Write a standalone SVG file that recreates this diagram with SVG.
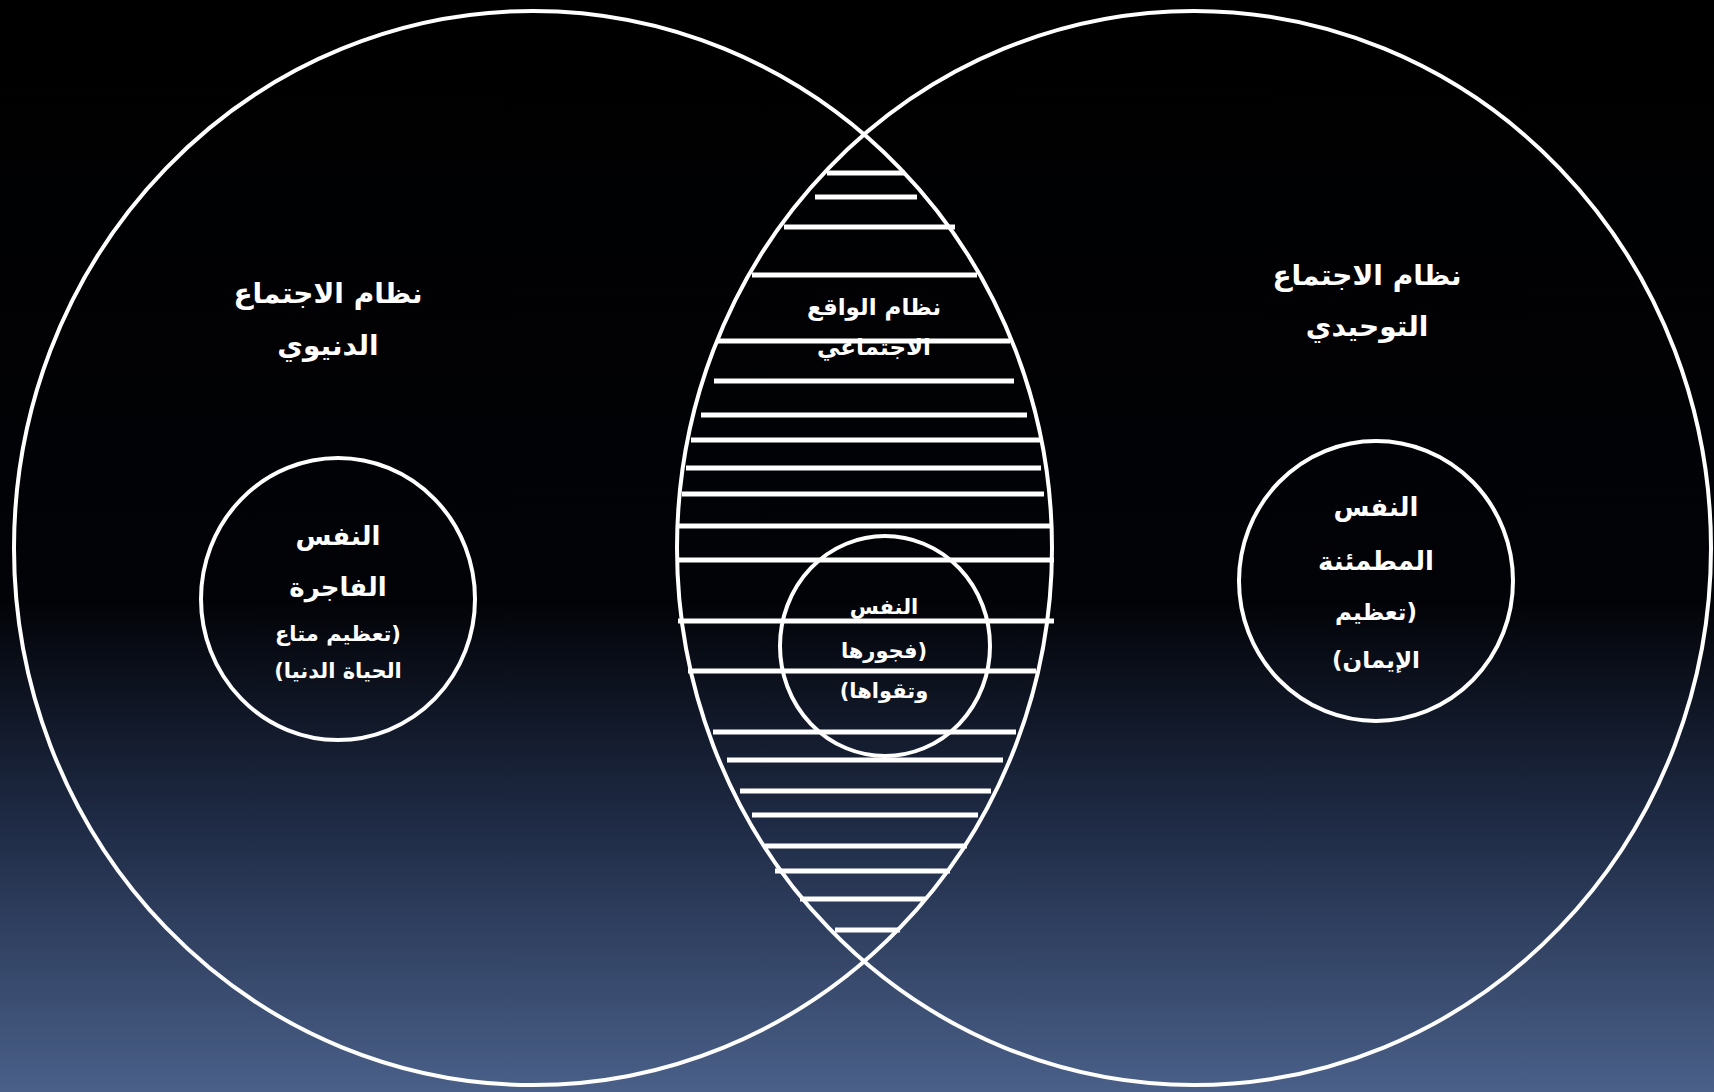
<svg xmlns="http://www.w3.org/2000/svg" width="1714" height="1092" viewBox="0 0 1714 1092">
<defs>
<linearGradient id="bg" x1="0" y1="0" x2="0" y2="1">
<stop offset="0" stop-color="#000000"/>
<stop offset="0.55" stop-color="#020307"/>
<stop offset="0.75" stop-color="#1e2a44"/>
<stop offset="1" stop-color="#4a6089"/>
</linearGradient>
<style>
.ring{fill:none;stroke:#ffffff;stroke-width:4}
.hatch line{stroke:#ffffff;stroke-width:5}
.t{fill:#ffffff;font-family:"DejaVu Sans","Liberation Sans",sans-serif;font-weight:bold;text-anchor:middle;direction:rtl}
.big{font-size:28px}
.lab{font-size:26px}
.mid{font-size:23px}
.sm{font-size:21px}
</style>
</defs>
<rect x="0" y="0" width="1714" height="1092" fill="url(#bg)"/>
<g id="left-system">
<ellipse class="ring" cx="533" cy="548" rx="519" ry="537"/>
<text class="t big" x="328" y="303">نظام الاجتماع</text>
<text class="t big" x="328" y="355">الدنيوي</text>
</g>
<g id="right-system">
<ellipse class="ring" cx="1194" cy="548" rx="517" ry="537"/>
<text class="t big" x="1367" y="285">نظام الاجتماع</text>
<text class="t big" x="1367" y="336">التوحيدي</text>
</g>
<g id="connectors" class="hatch">
<line x1="827" y1="173" x2="905" y2="173"/>
<line x1="815" y1="197" x2="917" y2="197"/>
<line x1="784" y1="227" x2="955" y2="227"/>
<line x1="752" y1="275" x2="977" y2="275"/>
<line x1="716" y1="341" x2="1010" y2="341"/>
<line x1="714" y1="381" x2="1014" y2="381"/>
<line x1="701" y1="415" x2="1027" y2="415"/>
<line x1="691" y1="440" x2="1041" y2="440"/>
<line x1="686" y1="468" x2="1041" y2="468"/>
<line x1="682" y1="494" x2="1044" y2="494"/>
<line x1="678" y1="526" x2="1052" y2="526"/>
<line x1="678" y1="560" x2="1054" y2="560"/>
<line x1="678" y1="621" x2="1054" y2="621"/>
<line x1="688" y1="671" x2="1036" y2="671"/>
<line x1="713" y1="732" x2="1016" y2="732"/>
<line x1="727" y1="760" x2="1003" y2="760"/>
<line x1="740" y1="791" x2="991" y2="791"/>
<line x1="752" y1="815" x2="978" y2="815"/>
<line x1="765" y1="846" x2="967" y2="846"/>
<line x1="775" y1="871" x2="950" y2="871"/>
<line x1="800" y1="899" x2="925" y2="899"/>
<line x1="835" y1="930" x2="900" y2="930"/>
</g>
<g id="social-reality">
<text class="t mid" x="874" y="315">نظام الواقع</text>
<text class="t mid" x="874" y="355">الاجتماعي</text>
</g>
<g id="nafs-fajira">
<ellipse class="ring" cx="338" cy="599" rx="137" ry="141"/>
<text class="t lab" x="338" y="545">النفس</text>
<text class="t lab" x="338" y="596">الفاجرة</text>
<text class="t sm" x="338" y="641">(تعظيم متاع</text>
<text class="t sm" x="338" y="678">الحياة الدنيا)</text>
</g>
<g id="nafs-middle">
<ellipse class="ring" cx="885" cy="646" rx="105" ry="110"/>
<text class="t sm" x="884" y="614">النفس</text>
<text class="t sm" x="884" y="658">(فجورها</text>
<text class="t sm" x="884" y="698">وتقواها)</text>
</g>
<g id="nafs-mutmainna">
<ellipse class="ring" cx="1376" cy="581" rx="137" ry="140"/>
<text class="t lab" x="1376" y="516">النفس</text>
<text class="t lab" x="1376" y="570">المطمئنة</text>
<text class="t mid" x="1376" y="620">(تعظيم</text>
<text class="t mid" x="1376" y="668">الإيمان)</text>
</g>
</svg>
